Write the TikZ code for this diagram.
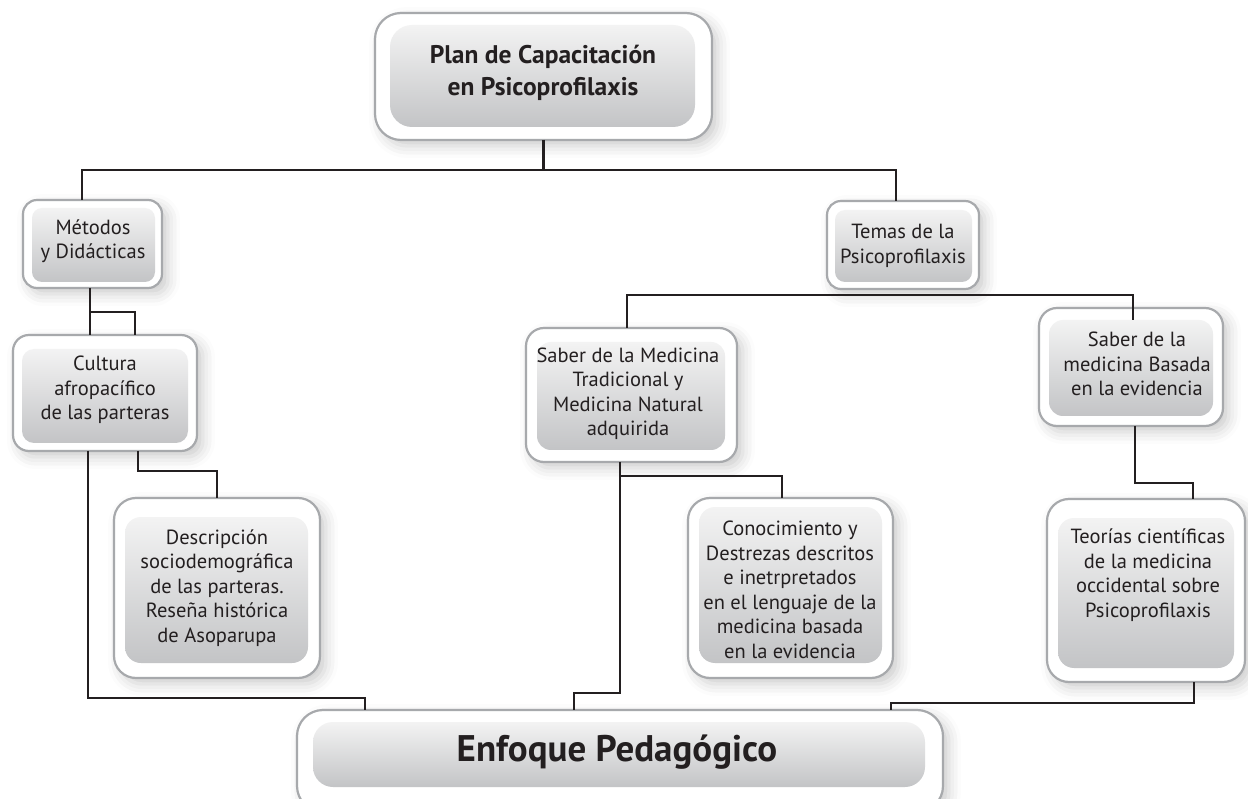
\documentclass[tikz,border=0pt]{standalone}
\usepackage{fontspec}
\setmainfont{PT Sans}
\usetikzlibrary{shadows.blur,calc}
\definecolor{ink}{HTML}{231F20}
\definecolor{rim}{HTML}{A7A9AC}
\definecolor{gtop}{HTML}{F3F3F3}
\definecolor{gbot}{HTML}{C3C4C6}
\tikzset{
  outerbox/.style={draw=rim, line width=2.2pt, fill=white, rounded corners=#1,
    inner sep=0pt, outer sep=0pt,
    blur shadow={shadow xshift=6pt, shadow yshift=-6pt, shadow blur radius=12pt, shadow opacity=20}},
  outerbox/.default=16pt,
  innerbox/.style={rounded corners=#1, top color=gtop, bottom color=gbot, draw=none,
    inner sep=0pt, outer sep=0pt},
  innerbox/.default=12pt,
  boxtext/.style={text=ink, align=center, font=\fontsize{20.5}{24.5}\selectfont, inner sep=0pt},
  bigtext/.style={text=ink, align=center, font=\fontsize{25.5}{32}\selectfont\bfseries, inner sep=0pt},
  link/.style={draw=ink, line width=2.7pt},
}
\begin{document}
\begin{tikzpicture}[x=1pt,y=-1pt]
\useasboundingbox (0,0) rectangle (1248,799);

% top
\node[outerbox=26pt, minimum width=337, minimum height=127] (top) at (543.5,76.5) {};
\node[innerbox=22pt, minimum width=305, minimum height=102] (topi) at (542.5,76) {};
\node[bigtext] (topt) at (543,73) {Plan de Capacitación\\en Psicoprofilaxis};

% metodos
\node[outerbox=14pt, minimum width=139, minimum height=88] (metodos) at (92.5,244) {};
\node[innerbox=10pt, minimum width=123, minimum height=74] (metodosi) at (93.5,245) {};
\node[boxtext] (metodost) at (93,241) {Métodos\\y Didácticas};

% cultura
\node[outerbox=16pt, minimum width=184, minimum height=116] (cultura) at (105,393) {};
\node[innerbox=12pt, minimum width=166, minimum height=94] (culturai) at (105,396) {};
\node[boxtext] (culturat) at (105,390) {Cultura\\afropacífico\\de las parteras};

% descripcion
\node[outerbox=22pt, minimum width=206, minimum height=180] (desc) at (217,588) {};
\node[innerbox=16pt, minimum width=183, minimum height=146] (desci) at (216.5,590) {};
\node[boxtext] (desct) at (217,588) {Descripción\\sociodemográfica\\de las parteras.\\Reseña histórica\\de Asoparupa};

% temas
\node[outerbox=14pt, minimum width=152, minimum height=88] (temas) at (903,245) {};
\node[innerbox=10pt, minimum width=137, minimum height=72] (temasi) at (903.5,246) {};
\node[boxtext] (temast) at (903,246) {Temas de la\\Psicoprofilaxis};

% saber tradicional
\node[outerbox=18pt, minimum width=211, minimum height=134] (saberT) at (631.5,395) {};
\node[innerbox=14pt, minimum width=188, minimum height=108] (saberTi) at (631,396) {};
\node[boxtext] (saberTt) at (628,394) {Saber de la Medicina\\Tradicional y\\Medicina Natural\\adquirida};

% saber basada
\node[outerbox=18pt, minimum width=184, minimum height=118] (saberB) at (1131,367) {};
\node[innerbox=14pt, minimum width=164, minimum height=96] (saberBi) at (1131,368) {};
\node[boxtext] (saberBt) at (1137,364) {Saber de la\\medicina Basada\\en la evidencia};

% conocimiento
\node[outerbox=22pt, minimum width=205, minimum height=180] (conoc) at (790.5,588) {};
\node[innerbox=16pt, minimum width=183, minimum height=156] (conoci) at (790.5,585) {};
\node[boxtext] (conoct) at (790,590) {Conocimiento y\\Destrezas descritos\\e inetrpretados\\en el lenguaje de la\\medicina basada\\en la evidencia};

% teorias
\node[outerbox=22pt, minimum width=198, minimum height=183] (teorias) at (1146,590.5) {};
\node[innerbox=16pt, minimum width=176, minimum height=150] (teoriasi) at (1146,593) {};
\node[boxtext] (teoriast) at (1148,575) {Teorías científicas\\de la medicina\\occidental sobre\\Psicoprofilaxis};

% enfoque
\node[outerbox=26pt, minimum width=646, minimum height=102] (enfoque) at (620,761) {};
\node[innerbox=20pt, minimum width=612, minimum height=65] (enfoquei) at (619,754.5) {};
\node[text=ink, font=\fontsize{37}{42}\selectfont\bfseries, inner sep=0pt] (enfoquet) at (617,752) {Enfoque Pedagógico};

% connectors
\draw[link] (top.south) -- ($(top.south)+(0,30)$);
\draw[link] ($(metodos.north west)+(59,0)$) |- ($(top.south)+(0,30)$) -| ($(temas.north west)+(69,0)$);

\draw[link] ($(metodos.south west)+(67,0)$) -- ($(cultura.north west)+(77,0)$);
\draw[link] ($(metodos.south west)+(67,24)$) -| ($(cultura.north west)+(122,0)$);

\draw[link] ($(cultura.south west)+(125,0)$) -- ++(0,20) -| ($(desc.north west)+(103,0)$);
\draw[link] ($(cultura.south west)+(75,0)$) |- ($(enfoque.north west)+(68,-12)$) -- ($(enfoque.north west)+(68,0)$);

\draw[link] ($(saberT.north west)+(101,0)$) |- ($(temas.south)+(0,6)$) -| ($(saberBi.north west)+(84,0)$);

\draw[link] ($(saberT.south west)+(94,0)$) -- ++(0,231) -| ($(enfoque.north west)+(277,0)$);
\draw[link] ($(saberT.south west)+(94,14)$) -| ($(conoc.north west)+(94,0)$);

\draw[link] ($(saberB.south west)+(96,0)$) -- ++(0,57) -| ($(teorias.north west)+(146,0)$);
\draw[link] ($(teorias.south west)+(147,0)$) -- ++(0,21) -| ($(enfoque.north west)+(594,0)$);
\end{tikzpicture}
\end{document}
